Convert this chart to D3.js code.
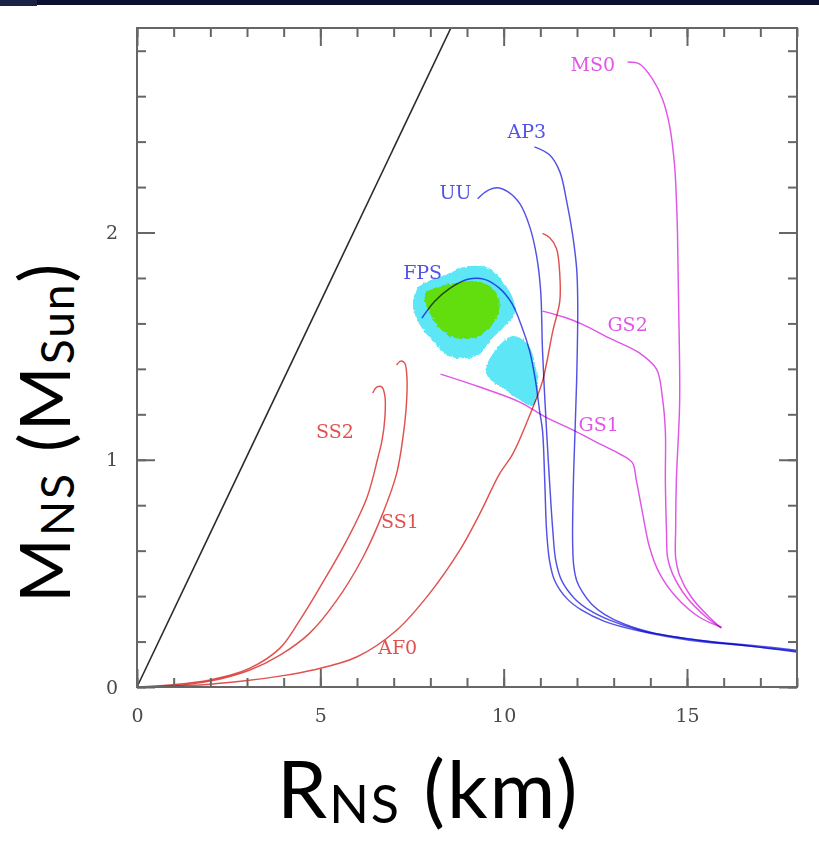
<!DOCTYPE html>
<html>
<head>
<meta charset="utf-8">
<script src="https://cdn.jsdelivr.net/npm/d3@7"></script>
<style>
  body { margin: 0; background: #fff; }
  svg { display: block; }
</style>
</head>
<body>
<svg id="chart" width="819" height="845"></svg>
<script>
// ---- axes ----
const radiusDomain = [0, 18];      // km
const massDomain = [0, 2.9];       // solar masses
const xMajorTicks = [0, 5, 10, 15];
const yMajorTicks = [0, 1, 2];
const xMinorTicks = d3.range(0, 19, 1);
const yMinorTicks = d3.range(0, 2.9, 0.2);

// ---- Schwarzschild limit R = 2GM/c^2 ----
const horizon = [[0, 0], [8.56, 2.9]];

// ---- observational constraint regions [R km, M sun] ----
const outerRegion = [[7.52,1.689],[7.71,1.763],[8.45,1.816],[8.99,1.851],[9.62,1.842],[9.97,1.785],
  [10.25,1.711],[10.30,1.645],[10.08,1.596],[9.62,1.522],[9.35,1.465],[8.99,1.447],[8.53,1.456],
  [8.07,1.522],[7.66,1.610]];
const innerRegion = [[7.85,1.728],[8.07,1.754],[8.61,1.776],[9.26,1.785],[9.70,1.754],[9.89,1.689],
  [9.75,1.610],[9.43,1.553],[8.99,1.531],[8.53,1.544],[8.17,1.596],[7.93,1.667]];
const lowerRegion = [[9.56,1.425],[10.22,1.544],[10.65,1.509],[10.87,1.412],[10.93,1.303],
  [10.79,1.237],[10.49,1.259],[9.89,1.325],[9.56,1.368]];

// ---- mass-radius relations [R km, M sun] ----
const uu = [[9.29,2.149],[9.56,2.184],[9.81,2.197],[10.11,2.180],[10.44,2.127],[10.71,2.026],
  [10.90,1.895],[11.01,1.741],[11.06,1.478],[11.17,1.127],[11.25,0.908],[11.34,0.689],
  [11.42,0.557],[11.58,0.469],[11.93,0.390],[12.34,0.338],[12.89,0.294],[13.71,0.250],
  [15.07,0.211],[16.70,0.180],[17.98,0.158]];
const fps = [[7.77,1.623],[8.12,1.697],[8.53,1.754],[9.02,1.794],[9.48,1.794],[9.89,1.754],
  [10.22,1.689],[10.49,1.588],[10.71,1.478],[10.87,1.346],[10.98,1.215],[11.06,1.127],
  [11.12,0.908],[11.17,0.689],[11.25,0.557],[11.39,0.469],[11.72,0.390],[12.13,0.338],
  [12.75,0.289],[13.71,0.246],[15.07,0.206],[16.70,0.180],[17.98,0.154]];
const ap3 = [[10.84,2.377],[11.25,2.342],[11.53,2.268],[11.72,2.136],[11.88,1.991],[11.99,1.842],
  [12.02,1.697],[11.99,1.346],[11.91,0.952],[11.88,0.645],[11.91,0.535],[11.99,0.469],
  [12.15,0.417],[12.40,0.364],[12.75,0.320],[13.30,0.276],[14.11,0.237],[15.34,0.206],
  [16.98,0.180],[17.98,0.162]];
const ms0 = [[13.38,2.750],[13.71,2.741],[14.06,2.675],[14.33,2.588],[14.52,2.474],[14.66,2.298],
  [14.71,2.149],[14.74,2.004],[14.77,1.697],[14.80,1.259],[14.71,0.908],[14.69,0.689],
  [14.69,0.570],[14.80,0.491],[15.12,0.395],[15.61,0.307],[15.94,0.259]];
const gs2 = [[11.06,1.654],[11.66,1.627],[12.15,1.596],[12.89,1.535],[13.71,1.469],[14.17,1.399],
  [14.33,1.272],[14.41,1.127],[14.41,0.908],[14.44,0.689],[14.47,0.570],[14.60,0.500],
  [14.99,0.395],[15.53,0.307],[15.91,0.263]];
const gs1 = [[8.28,1.377],[9.35,1.320],[10.44,1.254],[11.12,1.190],[11.99,1.123],[12.62,1.070],
  [13.16,1.026],[13.51,0.987],[13.62,0.908],[13.79,0.763],[13.98,0.614],[14.25,0.500],
  [14.71,0.395],[15.34,0.307],[15.94,0.263]];
const af0 = [[0,0],[1.72,0.009],[2.89,0.026],[3.90,0.048],[4.80,0.075],[5.99,0.132],[7.08,0.250],
  [7.98,0.412],[8.80,0.601],[9.35,0.763],[9.89,0.939],[10.25,1.026],[10.79,1.228],[11.06,1.346],
  [11.34,1.566],[11.53,1.697],[11.53,1.816],[11.44,1.930],[11.25,1.978],[11.06,1.996]];
const ss2 = [[6.43,1.294],[6.54,1.320],[6.68,1.320],[6.76,1.281],[6.76,1.184],[6.68,1.083],
  [6.57,1.009],[6.27,0.833],[5.72,0.645],[4.99,0.439],[4.44,0.294],[3.90,0.171],[3.08,0.083],
  [1.99,0.031],[0.90,0.009],[0,0]];
const ss1 = [[7.08,1.417],[7.19,1.434],[7.30,1.425],[7.36,1.368],[7.36,1.281],[7.30,1.158],
  [7.08,0.939],[6.70,0.763],[6.16,0.570],[5.45,0.382],[4.71,0.237],[3.90,0.140],[3.08,0.075],
  [1.99,0.026],[0.90,0.004],[0,0]];

// ---- curve name tags, anchored in data coordinates ----
const curveLabels = [
  { text: "MS0", at: [12.43, 2.741], kind: "magenta" },
  { text: "AP3", at: [10.63, 2.447], kind: "blue" },
  { text: "UU",  at: [8.69, 2.180],  kind: "blue" },
  { text: "FPS", at: [7.79, 1.825],  kind: "blue" },
  { text: "GS2", at: [13.38, 1.596], kind: "magenta" },
  { text: "GS1", at: [12.59, 1.158], kind: "magenta" },
  { text: "SS2", at: [5.40, 1.127],  kind: "red" },
  { text: "SS1", at: [7.17, 0.732],  kind: "red" },
  { text: "AF0", at: [7.11, 0.175],  kind: "red" }
];

const palette = { red: "#e0524f", blue: "#5252e6", magenta: "#e055e8" };

const curves = [
  { pts: af0, color: palette.red }, { pts: ss1, color: palette.red }, { pts: ss2, color: palette.red },
  { pts: gs1, color: palette.magenta }, { pts: gs2, color: palette.magenta }, { pts: ms0, color: palette.magenta },
  { pts: uu, color: palette.blue }, { pts: ap3, color: palette.blue }, { pts: fps, color: palette.blue }
];

// ---- layout ----
const svg = d3.select("#chart");
const frame = { left: 137, right: 797, top: 28, bottom: 687 };

const x = d3.scaleLinear().domain(radiusDomain).range([frame.left, frame.right]);
const y = d3.scaleLinear().domain(massDomain).range([frame.bottom, frame.top]);

// dark strip across the top edge
svg.append("rect").attr("x", 0).attr("y", 0).attr("width", 819).attr("height", 5).attr("fill", "#0b0f30");
svg.append("rect").attr("x", 0).attr("y", 0).attr("width", 37).attr("height", 6).attr("fill", "#1c2246");

const defs = svg.append("defs");
defs.append("clipPath").attr("id", "plotClip")
  .append("rect").attr("x", frame.left).attr("y", frame.top)
  .attr("width", frame.right - frame.left).attr("height", frame.bottom - frame.top);

// ragged, pixel-sampled edge for the shaded regions
const rough = defs.append("filter").attr("id", "ragged")
  .attr("x", "-10%").attr("y", "-10%").attr("width", "120%").attr("height", "120%");
rough.append("feTurbulence").attr("type", "fractalNoise").attr("baseFrequency", 0.35)
  .attr("numOctaves", 1).attr("seed", 4).attr("result", "noise");
rough.append("feDisplacementMap").attr("in", "SourceGraphic").attr("in2", "noise")
  .attr("scale", 4).attr("xChannelSelector", "R").attr("yChannelSelector", "G");

const plot = svg.append("g").attr("clip-path", "url(#plotClip)");

// constraint regions
const area = d3.line().x(d => x(d[0])).y(d => y(d[1])).curve(d3.curveCatmullRomClosed.alpha(0.5));
const regions = plot.append("g").attr("filter", "url(#ragged)");
regions.append("path").attr("d", area(outerRegion)).attr("fill", "#5ce6f6");
regions.append("path").attr("d", area(lowerRegion)).attr("fill", "#5ce6f6");
regions.append("path").attr("d", area(innerRegion)).attr("fill", "#62dd08");

// Schwarzschild line
const straight = d3.line().x(d => x(d[0])).y(d => y(d[1]));
plot.append("path").attr("d", straight(horizon)).attr("fill", "none")
  .attr("stroke", "#2a2a2a").attr("stroke-width", 1.6);

// M-R curves, multiplied over the shaded regions so they darken where they cross
const line = d3.line().x(d => x(d[0])).y(d => y(d[1])).curve(d3.curveCatmullRom.alpha(0.5));
curves.forEach(c => {
  plot.append("path").attr("d", line(c.pts)).attr("fill", "none")
    .attr("stroke", c.color).attr("stroke-width", 1.45).attr("stroke-linejoin", "round")
    .style("mix-blend-mode", "multiply");
});

// curve names
svg.append("g").selectAll("text").data(curveLabels).join("text")
  .attr("x", d => x(d.at[0])).attr("y", d => y(d.at[1]))
  .attr("text-anchor", "middle").attr("dominant-baseline", "central")
  .attr("font-family", "'DejaVu Serif', serif").attr("font-size", 19)
  .attr("fill", d => palette[d.kind]).text(d => d.text);

// ---- frame and inward ticks on all four sides ----
const tickColor = "#666";
function styleAxis(g) {
  g.select(".domain").remove();
  g.selectAll(".tick line").attr("stroke", tickColor).attr("stroke-width", 2);
  g.selectAll(".tick text").attr("fill", "#4a4a4a")
    .attr("font-family", "'DejaVu Serif', serif").attr("font-size", 19);
}
const minorLen = 9, majorLen = 18;

svg.append("g").attr("transform", `translate(0,${frame.bottom})`)
  .call(d3.axisBottom(x).tickValues(xMinorTicks).tickSize(-minorLen).tickFormat("")).call(styleAxis);
svg.append("g").attr("transform", `translate(0,${frame.bottom})`)
  .call(d3.axisBottom(x).tickValues(xMajorTicks).tickSize(-majorLen).tickPadding(22).tickFormat(d3.format("d")))
  .call(styleAxis);
svg.append("g").attr("transform", `translate(0,${frame.top})`)
  .call(d3.axisTop(x).tickValues(xMinorTicks).tickSize(-minorLen).tickFormat("")).call(styleAxis);
svg.append("g").attr("transform", `translate(0,${frame.top})`)
  .call(d3.axisTop(x).tickValues(xMajorTicks).tickSize(-majorLen).tickFormat("")).call(styleAxis);

svg.append("g").attr("transform", `translate(${frame.left},0)`)
  .call(d3.axisLeft(y).tickValues(yMinorTicks).tickSize(-minorLen).tickFormat("")).call(styleAxis);
svg.append("g").attr("transform", `translate(${frame.left},0)`)
  .call(d3.axisLeft(y).tickValues(yMajorTicks).tickSize(-majorLen).tickPadding(19).tickFormat(d3.format("d")))
  .call(styleAxis);
svg.append("g").attr("transform", `translate(${frame.right},0)`)
  .call(d3.axisRight(y).tickValues(yMinorTicks).tickSize(-minorLen).tickFormat("")).call(styleAxis);
svg.append("g").attr("transform", `translate(${frame.right},0)`)
  .call(d3.axisRight(y).tickValues(yMajorTicks).tickSize(-majorLen).tickFormat("")).call(styleAxis);

svg.append("rect").attr("x", frame.left).attr("y", frame.top)
  .attr("width", frame.right - frame.left).attr("height", frame.bottom - frame.top)
  .attr("fill", "none").attr("stroke", tickColor).attr("stroke-width", 2);

// ---- axis titles ----
const titleFont = "Lato, 'Open Sans', sans-serif";
const xt = svg.append("text").attr("x", 277).attr("y", 818)
  .attr("font-family", titleFont).attr("font-size", 80).attr("letter-spacing", 2).attr("fill", "#000");
xt.append("tspan").text("R");
xt.append("tspan").attr("font-size", 52).attr("dy", 5).text("NS");
xt.append("tspan").attr("dy", -5).text(" (km)");

const yt = svg.append("text").attr("transform", "translate(70,603) rotate(-90)")
  .attr("font-family", titleFont).attr("font-size", 70).attr("letter-spacing", 2).attr("fill", "#000");
yt.append("tspan").text("M");
yt.append("tspan").attr("font-size", 46).attr("dy", 4).text("NS");
yt.append("tspan").attr("dy", -4).text(" (M");
yt.append("tspan").attr("font-size", 46).attr("dy", 4).text("Sun");
yt.append("tspan").attr("dy", -4).text(")");
</script>
</body>
</html>
